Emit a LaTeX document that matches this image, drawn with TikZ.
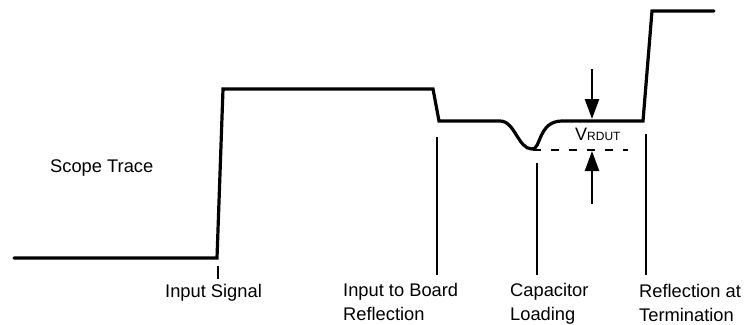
\documentclass[tikz,border=0pt]{standalone}
\usepackage{fontspec}
\setmainfont{Liberation Sans}
\usetikzlibrary{arrows.meta}
\begin{document}
\begin{tikzpicture}[x=1pt,y=-1pt,
  trace/.style={line width=3.2pt,line join=miter,line cap=round},
  marker/.style={line width=2.7pt},
  level/.style={line width=2.3pt,dash pattern=on 8pt off 10pt},
  vmark/.style={line width=2.5pt,-{Triangle[length=20pt,width=14pt]}},
  lbl/.style={font=\fontsize{18.3}{24}\selectfont,inner sep=0pt,anchor=north west,align=left}]
\useasboundingbox (0,0) rectangle (746,324);

% scope trace waveform
\draw[trace] (14,258) -- (217,258) -- (223,89) -- (433,89) -- (439,121)
  -- (500,121) .. controls (515,121) and (518,149) .. (532,149)
  .. controls (541,150) and (538,121) .. (562,121)
  -- (643,121) -- (652,11) -- (714,11);

% dashed reference level at the bottom of the dip
\coordinate (dipL) at (533,150);
\coordinate (dipR) at (628,150);
\draw[level] (dipL) -- (dipR);

% event markers
\coordinate (sigT) at (218,266);  \coordinate (sigB) at (218,279);
\coordinate (brdT) at (437,137);  \coordinate (brdB) at (437,275);
\coordinate (capT) at (537,163);  \coordinate (capB) at (537,275);
\coordinate (trmT) at (646,134);  \coordinate (trmB) at (646,275);
\draw[marker] (sigT) -- (sigB);
\draw[marker] (brdT) -- (brdB);
\draw[marker] (capT) -- (capB);
\draw[marker] (trmT) -- (trmB);

% V_RDUT dimension arrows
\coordinate (upS) at (592,69);  \coordinate (upE) at (592,119);
\coordinate (dnS) at (592,204); \coordinate (dnE) at (592,151);
\draw[vmark] (upS) -- (upE);
\draw[vmark] (dnS) -- (dnE);
\node[inner sep=0pt,anchor=base west] (vr) at (575,140)
  {\fontsize{18}{20}\selectfont V\fontsize{12}{14}\selectfont RDUT};

% labels
\node[lbl] (scope) at (50,160) {Scope Trace};
\node[lbl] (sig) at (165,284) {Input Signal};
\node[lbl] (brd) at (343,283) {Input to Board\\Reflection};
\node[lbl] (cap) at (510,283) {Capacitor\\Loading};
\node[lbl] (trm) at (639,284) {Reflection at\\Termination};
\end{tikzpicture}
\end{document}
